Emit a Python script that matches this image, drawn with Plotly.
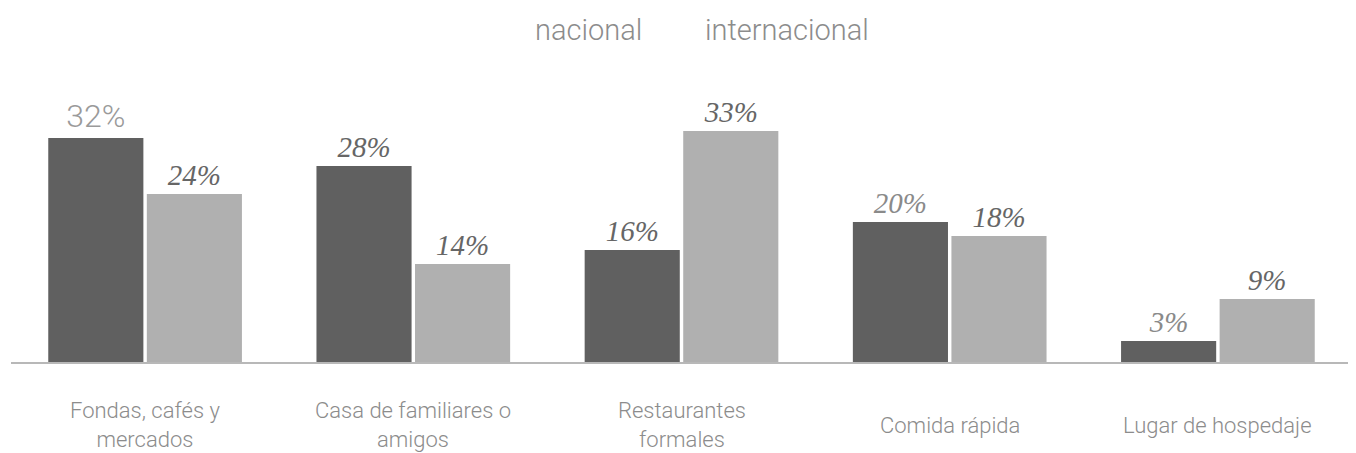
"""
Grouped bar chart: where people eat, nacional vs internacional
"""
import plotly.graph_objects as go

categorias = [
    "Fondas, cafés y<br>mercados",
    "Casa de familiares o<br>amigos",
    "Restaurantes<br>formales",
    "Comida rápida",
    "Lugar de hospedaje",
]
nacional = [32, 28, 16, 20, 3]
internacional = [24, 14, 33, 18, 9]

# label styles (first label is a light sans, the rest italic serif)
fam_nac = ["Roboto", "Liberation Serif", "Liberation Serif", "Liberation Serif", "Liberation Serif"]
size_nac = [32, 29, 29, 29, 29]
col_nac = ["#9a9a9a", "#666666", "#666666", "#8a8a8a", "#8a8a8a"]

x_idx = list(range(len(categorias)))

fig = go.Figure()

# Dark bars
fig.add_trace(go.Bar(
    x=x_idx, y=nacional, name="nacional",
    marker_color="#606060", marker_line_width=0,
    text=[f"{v}%" for v in nacional], textposition="outside",
    textfont=dict(family=fam_nac, size=size_nac, color=col_nac,
                  style=["normal"] + ["italic"] * 4, weight=[300, 400, 400, 400, 400]),
    cliponaxis=False, showlegend=False,
))

# Light bars
fig.add_trace(go.Bar(
    x=x_idx, y=internacional, name="internacional",
    marker_color="#b0b0b0", marker_line_width=0,
    text=[f"{v}%" for v in internacional], textposition="outside",
    textfont=dict(family="Liberation Serif", size=29, color="#666666", style="italic"),
    cliponaxis=False, showlegend=False,
))

# Category labels, centred vertically like the original
for i, c in enumerate(categorias):
    fig.add_annotation(
        x=i, y=-0.225, xref="x", yref="paper", text=c, showarrow=False,
        yanchor="middle",
        font=dict(family="Roboto", weight=300, size=22, color="#8c8c8c"),
    )

# Legend text (no swatches in the original)
fig.add_annotation(x=0.431, y=1.245, xref="paper", yref="paper", text="nacional",
                   showarrow=False, xanchor="center",
                   font=dict(family="Roboto", weight=300, size=29, color="#8c8c8c"))
fig.add_annotation(x=0.579, y=1.245, xref="paper", yref="paper", text="internacional",
                   showarrow=False, xanchor="center",
                   font=dict(family="Roboto", weight=300, size=29, color="#8c8c8c"))

# page body has an 8px margin, so the figure is a little smaller than the window
fig.update_layout(
    width=1348, height=445,
    margin=dict(l=3, r=4, t=72, b=91),
    barmode="group", bargap=0.265, bargroupgap=0.035,
    plot_bgcolor="white", paper_bgcolor="white",
    showlegend=False,
)
fig.update_xaxes(
    range=[-0.5, 4.5], showticklabels=False, showgrid=False,
    showline=True, linecolor="#b8b8b8", linewidth=2, zeroline=False,
)
fig.update_yaxes(range=[0, 40.3], visible=False)

fig.write_html("out.html")
